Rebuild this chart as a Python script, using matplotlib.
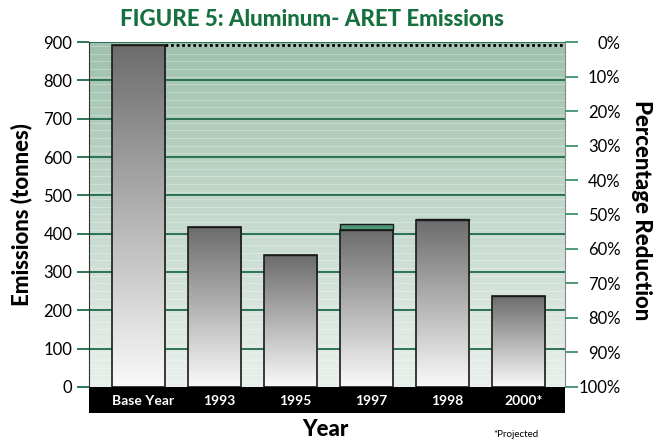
#!/usr/bin/env python3
"""Aluminum ARET emissions bar chart with a percentage-reduction axis."""

import matplotlib.pyplot as plt
import numpy as np
from matplotlib.colors import LinearSegmentedColormap

plt.rcParams["font.family"] = ["Lato", "DejaVu Sans"]

years = ["Base Year", "1993", "1995", "1997", "1998", "2000*"]
emissions = [893, 417, 344, 410, 436, 237]
green_cap = [0, 0, 0, 15, 2, 0]
left_ticks = [0, 100, 200, 300, 400, 500, 600, 700, 800, 900]
pct_ticks = [0, 10, 20, 30, 40, 50, 60, 70, 80, 90, 100]

GRID = "#1d6b4b"
TITLE = "#17703f"

fig = plt.figure(figsize=(6.53, 4.40), dpi=100)
ax = fig.add_axes([0.1363, 0.1205, 0.729, 0.784])
band = fig.add_axes([0.1363, 0.0614, 0.729, 0.059])

x = np.arange(len(years))
width = 0.70
xlim = (-0.655, 5.61)
ax.set_xlim(*xlim)
ax.set_ylim(0, 900)

# green background gradient, darker at top
bg = LinearSegmentedColormap.from_list("bg", ["#e9f0eb", "#9fc1ae"])
ax.imshow(np.linspace(0, 1, 256)[:, None], cmap=bg, origin="lower", aspect="auto",
          extent=(*xlim, 0, 900), zorder=0)
for yy in np.arange(10, 900, 20):
    ax.axhline(yy, color="white", lw=0.6, alpha=0.35, zorder=1)
for yy in left_ticks[1:]:
    ax.axhline(yy, color=GRID, lw=1.3, zorder=2)

# bars with vertical grey gradient
shade = LinearSegmentedColormap.from_list("shade", ["#fafafa", "#6c6c6c"])
bars = ax.bar(x, emissions, width, facecolor="none", edgecolor="#1a1a1a", lw=1.2, zorder=4)
for b in bars:
    x0, h = b.get_x(), b.get_height()
    im = ax.imshow(np.linspace(0, 1, 256)[:, None], cmap=shade, origin="lower",
                   aspect="auto", extent=(x0, x0 + width, 0, h), zorder=3)
    im.set_clip_path(b)
ax.bar(x, green_cap, width, bottom=emissions, color="#4e9877", edgecolor="#1a1a1a",
       lw=1.0, zorder=3)
ax.set_xlim(*xlim)
ax.set_ylim(0, 900)

# dotted reference line at base year level
ax.hlines(emissions[0], x[0] + width / 2, xlim[1], colors="black", linestyles=(0, (1, 1)),
          lw=2, zorder=5)

ax.set_xticks([])
ax.set_yticks(left_ticks)
ax.tick_params(axis="y", length=9, width=1.3, color=GRID, labelsize=12, pad=3)
ax.spines["top"].set_visible(False)
ax.spines["bottom"].set_visible(False)
ax.spines["left"].set_color("#333333")
ax.spines["right"].set_color("#888888")
ax.set_ylabel("Emissions (tonnes)", fontsize=16, fontweight="black", va="center")
ax.yaxis.set_label_coords(-0.141, 0.5)

ax2 = ax.twinx()
ax2.set_ylim(100, 0)
ax2.set_yticks(pct_ticks)
ax2.set_yticklabels([f"{p}%" for p in pct_ticks], ha="right")
ax2.tick_params(axis="y", length=9, width=1.3, color="#3f9070", labelsize=12, pad=31)
for s in ax2.spines.values():
    s.set_visible(False)
ax2.set_ylabel("Percentage Reduction", fontsize=16, fontweight="black", rotation=-90,
               va="center")
ax2.yaxis.set_label_coords(1.16, 0.513)

# black category band
band.set_facecolor("black")
band.set_xlim(*xlim)
band.set_ylim(0, 1)
band.set_xticks([])
band.set_yticks([])
for s in band.spines.values():
    s.set_visible(False)
for xi, label in zip(x, years):
    band.text(xi + 0.06, 0.45, label, color="white", fontsize=10, fontweight="bold",
              ha="center", va="center")

fig.text(0.478, 0.955, "FIGURE 5: Aluminum- ARET Emissions", color=TITLE, fontsize=16,
         fontweight="black", ha="center", va="center")
fig.text(0.498, 0.0, "Year", fontsize=16, fontweight="black", ha="center", va="bottom")
fig.text(0.79, 0.012, "*Projected", fontsize=7, ha="center", va="center")

fig.savefig("out.png", dpi=100)
